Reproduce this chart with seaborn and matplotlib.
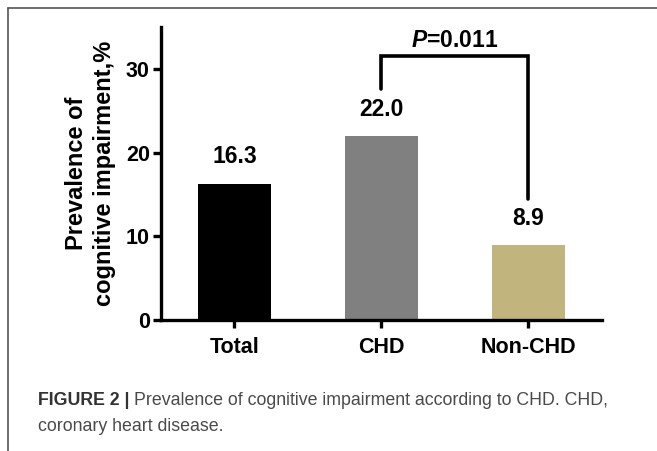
import numpy as np
import pandas as pd
import seaborn as sns
import matplotlib.pyplot as plt
from matplotlib.lines import Line2D

# values
groups = ['Total', 'CHD', 'Non-CHD']
prevalence = [16.3, 22.0, 8.9]
bar_colors = ['#000000', '#808080', '#c1b57d']
p_label = '=0.011'
bracket_top = 31.6
bracket_left_end = 27.6
bracket_right_end = 14.4

sns.set_style('ticks')
plt.rcParams['font.family'] = ['Liberation Sans', 'DejaVu Sans']
plt.rcParams['mathtext.fontset'] = 'custom'
plt.rcParams['mathtext.it'] = 'Liberation Sans:italic:bold'
for k in ['text.color', 'axes.labelcolor', 'xtick.color', 'ytick.color', 'axes.edgecolor']:
    plt.rcParams[k] = 'black'

df = pd.DataFrame({'group': groups, 'value': prevalence})

fig = plt.figure(figsize=(6.57, 4.51), dpi=100)
ax = fig.add_axes([0.245, 0.2905, 0.671, 0.6495])

sns.barplot(data=df, x='group', y='value', hue='group', palette=bar_colors,
            width=0.5, legend=False, saturation=1, linewidth=0, ax=ax)

ax.set_xlim(-0.5, 2.5)
ax.set_ylim(0, 35)
ax.set_yticks([0, 10, 20, 30])
ax.set_xlabel('')
ax.set_ylabel('Prevalence of\ncognitive impairment,%', fontsize=17,
              fontweight='bold', linespacing=1.3, labelpad=7)
sns.despine(ax=ax)
for s in ['left', 'bottom']:
    ax.spines[s].set_linewidth(2.4)
ax.tick_params(axis='both', width=2.4, length=6, labelsize=15.5)
ax.tick_params(axis='x', pad=6)
ax.tick_params(axis='y', pad=2)
for lab in ax.get_xticklabels() + ax.get_yticklabels():
    lab.set_fontweight('bold')

# value labels above bars
for i, v in enumerate(prevalence):
    ax.text(i, v + 3.2, f'{v:.1f}', ha='center', va='center',
            fontsize=16.5, fontweight='bold')

# significance bracket between CHD and Non-CHD
ax.plot([1, 1, 2, 2], [bracket_left_end, bracket_top, bracket_top, bracket_right_end],
        color='black', lw=2.6, solid_joinstyle='miter', clip_on=False)
ax.text(1.5, bracket_top + 1.8, r'$P$' + p_label, ha='center', va='center',
        fontsize=16.5, fontweight='bold')

# panel border (top and left)
fig.add_artist(Line2D([8 / 657, 1], [1 - 8 / 451, 1 - 8 / 451], color='#555555', lw=1.2))
fig.add_artist(Line2D([8 / 657, 8 / 657], [0, 1 - 8 / 451], color='#555555', lw=1.2))

# caption
t1 = fig.text(38 / 657, 1 - 405 / 451, 'FIGURE 2 |', fontsize=12.8, fontweight='bold',
              color='#333333', va='baseline')
fig.canvas.draw()
bb = t1.get_window_extent()
fig.text((bb.x1 + 4) / 657, 1 - 405 / 451,
         'Prevalence of cognitive impairment according to CHD. CHD,',
         fontsize=12.8, color='#4a4a4a', va='baseline')
fig.text(38 / 657, 1 - 431 / 451, 'coronary heart disease.', fontsize=12.8,
         color='#4a4a4a', va='baseline')

fig.savefig('out.png', dpi=100)
